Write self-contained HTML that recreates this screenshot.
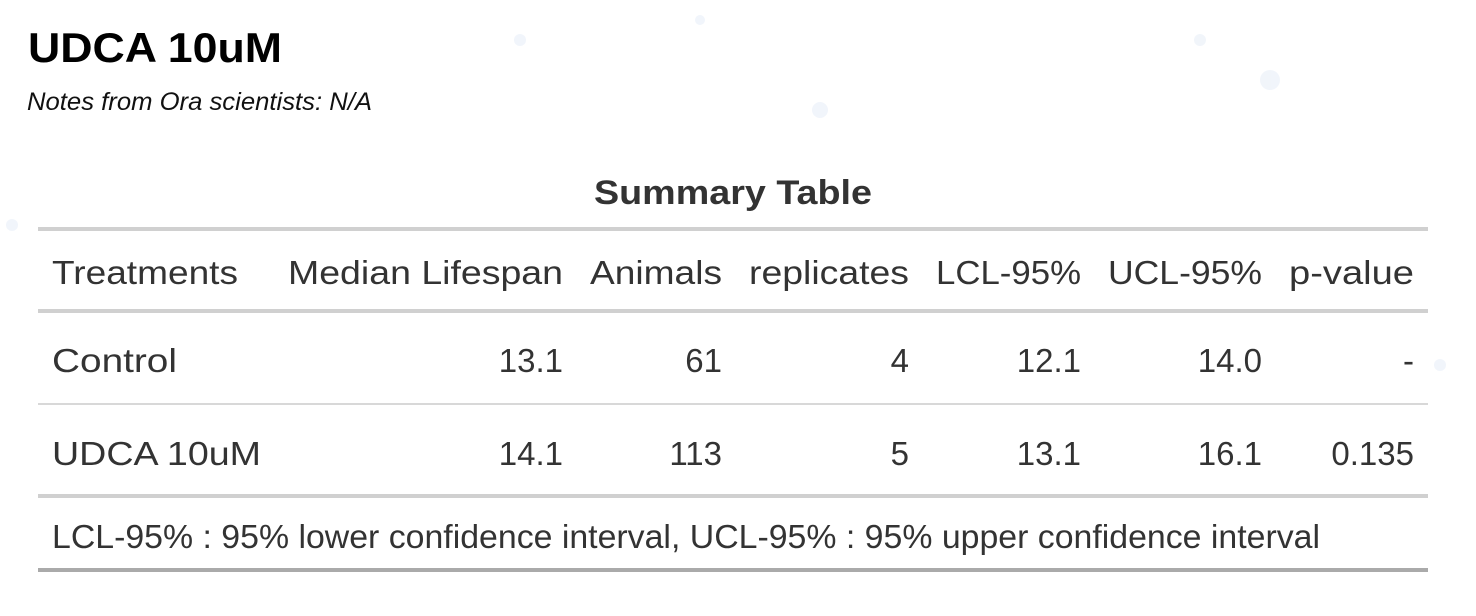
<!DOCTYPE html>
<html><head><meta charset="utf-8"><style>
html,body{margin:0;padding:0;background:#fff;}
svg{display:block}
</style></head><body>
<svg width="1476" height="616" xmlns="http://www.w3.org/2000/svg" font-family="Liberation Sans, sans-serif">
<rect width="1476" height="616" fill="#fff"/>
<g fill="#eef3fa" opacity="0.8">
<circle cx="520" cy="40" r="6"/><circle cx="700" cy="20" r="5"/><circle cx="1270" cy="80" r="10"/><circle cx="1200" cy="40" r="6"/><circle cx="820" cy="110" r="8"/><circle cx="12" cy="225" r="6"/><circle cx="1440" cy="365" r="6"/>
</g>
<text x="28" y="62" font-size="42" font-weight="bold" fill="#000" textLength="254" lengthAdjust="spacingAndGlyphs">UDCA 10uM</text>
<text x="27" y="110" font-size="25" font-style="italic" fill="#111" textLength="345" lengthAdjust="spacingAndGlyphs">Notes from Ora scientists: N/A</text>
<text x="733" y="204" font-size="34" font-weight="bold" fill="#333" text-anchor="middle" textLength="278" lengthAdjust="spacingAndGlyphs">Summary Table</text>
<rect x="38" y="227" width="1390" height="4" fill="#d0d0d0"/>
<g font-size="33" fill="#333">
<text x="52" y="284" textLength="186" lengthAdjust="spacingAndGlyphs">Treatments</text>
<text x="288" y="284" textLength="275" lengthAdjust="spacingAndGlyphs">Median Lifespan</text>
<text x="590" y="284" textLength="132" lengthAdjust="spacingAndGlyphs">Animals</text>
<text x="749" y="284" textLength="160" lengthAdjust="spacingAndGlyphs">replicates</text>
<text x="936" y="284" textLength="145" lengthAdjust="spacingAndGlyphs">LCL-95%</text>
<text x="1108" y="284" textLength="154" lengthAdjust="spacingAndGlyphs">UCL-95%</text>
<text x="1289" y="284" textLength="125" lengthAdjust="spacingAndGlyphs">p-value</text>
</g>
<rect x="38" y="309" width="1390" height="4" fill="#d0d0d0"/>
<g font-size="33" fill="#333" text-anchor="end">
<text x="177" y="372" text-anchor="start" textLength="125" lengthAdjust="spacingAndGlyphs" dx="-125">Control</text>
<text x="563" y="372">13.1</text><text x="722" y="372">61</text><text x="909" y="372">4</text><text x="1081" y="372">12.1</text><text x="1262" y="372">14.0</text><text x="1414" y="372">-</text>
<text x="52" y="465" text-anchor="start" textLength="209" lengthAdjust="spacingAndGlyphs">UDCA 10uM</text>
<text x="563" y="465">14.1</text><text x="722" y="465">113</text><text x="909" y="465">5</text><text x="1081" y="465">13.1</text><text x="1262" y="465">16.1</text><text x="1414" y="465">0.135</text>
</g>
<rect x="38" y="403" width="1390" height="2" fill="#d8d8d8"/>
<rect x="38" y="494" width="1390" height="4" fill="#d0d0d0"/>
<text x="52" y="548" font-size="33" fill="#333" textLength="1268" lengthAdjust="spacingAndGlyphs">LCL-95% : 95% lower confidence interval, UCL-95% : 95% upper confidence interval</text>
<rect x="38" y="568" width="1390" height="4" fill="#aaaaaa"/>
</svg>
</body></html>
